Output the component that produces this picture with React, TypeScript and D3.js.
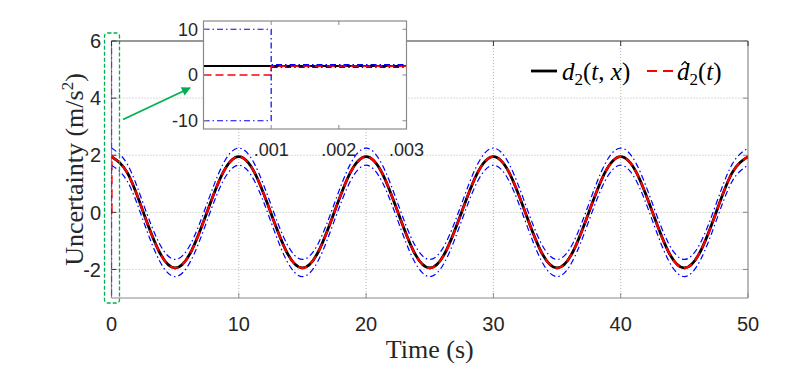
import React from "react";
import * as d3 from "d3";

// ---- data ----
const timeMain = [
  0, 1.25, 2.5, 3.75, 5, 6.25, 7.5, 8.75, 10, 11.25, 12.5, 13.75, 15, 16.25, 17.5, 18.75,
  20, 21.25, 22.5, 23.75, 25, 26.25, 27.5, 28.75, 30, 31.25, 32.5, 33.75, 35, 36.25, 37.5, 38.75,
  40, 41.25, 42.5, 43.75, 45, 46.25, 47.5, 48.75, 50,
];
const d2Main = [
  1.95, 1.38, 0, -1.38, -1.95, -1.38, 0, 1.38, 1.95, 1.38, 0, -1.38, -1.95, -1.38, 0, 1.38,
  1.95, 1.38, 0, -1.38, -1.95, -1.38, 0, 1.38, 1.95, 1.38, 0, -1.38, -1.95, -1.38, 0, 1.38,
  1.95, 1.38, 0, -1.38, -1.95, -1.38, 0, 1.38, 1.95,
];
const estimateMain = [
  1.95, 1.38, 0, -1.38, -1.95, -1.38, 0, 1.38, 1.95, 1.38, 0, -1.38, -1.95, -1.38, 0, 1.38,
  1.95, 1.38, 0, -1.38, -1.95, -1.38, 0, 1.38, 1.95, 1.38, 0, -1.38, -1.95, -1.38, 0, 1.38,
  1.95, 1.38, 0, -1.38, -1.95, -1.38, 0, 1.38, 1.95,
];
const boundHalfWidth = 0.3;

// initial transient (t in [0, 0.001])
const transientTime = [0, 0.001];
const estimateTransient = [0, 0];
const upperTransient = [10, 10];
const lowerTransient = [-10, -10];

// inset (zoom of t in [0, 0.003])
const insetTime = [0, 0.001, 0.002, 0.003];
const insetD2 = [1.95, 1.95, 1.95, 1.95];

const xTicks = [0, 10, 20, 30, 40, 50];
const yTicks = [-2, 0, 2, 4, 6];
const insetXTicks = [0.001, 0.002, 0.003];
const insetXTickLabels = [".001", ".002", ".003"];
const insetYTicks = [-10, 0, 10];

const BLACK = "#000000";
const RED = "#ff0000";
const BLUE = "#0000ff";
const GREEN = "#00b050";
const GRID = "#b4b4b4";
const AXIS = "#8a8a8a";
const AXIS_TOP = "#333333";
const SANS = "'Liberation Sans', Arial, Helvetica, sans-serif";
const SERIF = "'Liberation Serif', 'Times New Roman', Times, serif";

type P = [number, number];

export default function App() {
  const x = d3.scaleLinear().domain([0, 50]).range([111.5, 748]);
  const y = d3.scaleLinear().domain([-3, 6]).range([298, 41]);

  const xi = d3.scaleLinear().domain([0, 0.003]).range([203.5, 406.5]);
  const yi = d3.scaleLinear().domain([-11.8, 11.8]).range([129, 21]);

  const smooth = d3.line<P>().x((d) => x(d[0])).y((d) => y(d[1])).curve(d3.curveNatural);
  const lin = d3.line<P>().x((d) => x(d[0])).y((d) => y(d[1]));
  const linI = d3.line<P>().x((d) => xi(d[0])).y((d) => yi(d[1]));

  const blackPts: P[] = timeMain.map((t, i) => [t, d2Main[i]]);
  const redPts: P[] = timeMain.map((t, i) => [t, estimateMain[i]]);
  const upPts: P[] = timeMain.map((t, i) => [t, estimateMain[i] + boundHalfWidth]);
  const loPts: P[] = timeMain.map((t, i) => [t, estimateMain[i] - boundHalfWidth]);

  const tEnd = transientTime[transientTime.length - 1];
  const redTrans: P[] = [
    ...transientTime.map((t, i) => [t, estimateTransient[i]] as P),
    [tEnd, estimateMain[0]],
  ];
  const upTrans: P[] = [
    ...transientTime.map((t, i) => [t, upperTransient[i]] as P),
    [tEnd, estimateMain[0] + boundHalfWidth],
  ];
  const loTrans: P[] = [
    ...transientTime.map((t, i) => [t, lowerTransient[i]] as P),
    [tEnd, estimateMain[0] - boundHalfWidth],
  ];

  // inset series
  const insetBlack: P[] = insetTime.map((t, i) => [t, insetD2[i]]);
  const after = insetTime.map((t, i) => ({ t, v: insetD2[i] })).filter((d) => d.t >= tEnd);
  const insetRed: P[] = [
    ...transientTime.map((t, i) => [t, estimateTransient[i]] as P),
    ...after.map((d) => [d.t, d.v] as P),
  ];
  const insetUp: P[] = [
    ...transientTime.map((t, i) => [t, upperTransient[i]] as P),
    ...after.map((d) => [d.t, d.v + boundHalfWidth] as P),
  ];
  const insetLo: P[] = [
    ...transientTime.map((t, i) => [t, lowerTransient[i]] as P),
    ...after.map((d) => [d.t, d.v - boundHalfWidth] as P),
  ];

  const [x0, x1] = x.range();
  const [yb, yt] = y.range();
  const [ix0, ix1] = xi.range();
  const [iyb, iyt] = yi.range();

  const redDash = "9,5";
  const blueDash = "6,3,1.5,3";

  return (
    <svg
      width={789}
      height={369}
      style={{ position: "absolute", left: 0, top: 0, display: "block", background: "#fff" }}
    >
      <defs>
        <clipPath id="mainClip">
          <rect x={x0} y={yt} width={x1 - x0} height={yb - yt} />
        </clipPath>
        <clipPath id="insetClip">
          <rect x={ix0} y={iyt} width={ix1 - ix0} height={iyb - iyt} />
        </clipPath>
        <marker id="arrowHead" viewBox="0 0 10 10" refX="9" refY="5" markerWidth="11" markerHeight="9" markerUnits="userSpaceOnUse" orient="auto">
          <path d="M0,0 L10,5 L0,10 z" fill={GREEN} />
        </marker>
      </defs>

      {/* grid */}
      {xTicks.filter((t) => t > 0 && t < 50).map((t) => (
        <line key={"gx" + t} x1={x(t)} x2={x(t)} y1={yb} y2={yt} stroke={GRID} strokeWidth={1} strokeDasharray="1,2" />
      ))}
      {yTicks.filter((t) => t < 6).map((t) => (
        <line key={"gy" + t} x1={x0} x2={x1} y1={y(t)} y2={y(t)} stroke={GRID} strokeWidth={1} strokeDasharray="1,2" />
      ))}

      {/* axes frame */}
      <line x1={x0} x2={x1} y1={yb} y2={yb} stroke={AXIS} strokeWidth={1.2} />
      <line x1={x0} x2={x0} y1={yb} y2={yt} stroke={AXIS} strokeWidth={1.2} />
      <line x1={x1} x2={x1} y1={yb} y2={yt} stroke={AXIS} strokeWidth={1.2} />
      <line x1={x0} x2={x1} y1={yt} y2={yt} stroke={AXIS_TOP} strokeWidth={1.2} />
      {xTicks.map((t) => (
        <g key={"tx" + t}>
          <line x1={x(t)} x2={x(t)} y1={yb} y2={yb - 5} stroke={AXIS} />
          <line x1={x(t)} x2={x(t)} y1={yt} y2={yt + 5} stroke={AXIS_TOP} />
          <text x={x(t)} y={331} textAnchor="middle" fontFamily={SANS} fontSize={20} fill="#262626">
            {t}
          </text>
        </g>
      ))}
      {yTicks.map((t) => (
        <g key={"ty" + t}>
          <line x1={x0} x2={x0 + 5} y1={y(t)} y2={y(t)} stroke={AXIS_TOP} />
          <line x1={x1} x2={x1 - 5} y1={y(t)} y2={y(t)} stroke={AXIS} />
          <text x={101} y={y(t)} dy="0.36em" textAnchor="end" fontFamily={SANS} fontSize={20} fill="#262626">
            {t}
          </text>
        </g>
      ))}

      {/* data */}
      <g clipPath="url(#mainClip)">
        <path d={smooth(blackPts) ?? ""} fill="none" stroke={BLACK} strokeWidth={2.8} />
        <path d={lin(redTrans) ?? ""} fill="none" stroke={RED} strokeWidth={2.2} strokeDasharray={redDash} />
        <path d={smooth(redPts) ?? ""} fill="none" stroke={RED} strokeWidth={2.2} strokeDasharray={redDash} />
        <path d={lin(upTrans) ?? ""} fill="none" stroke={BLUE} strokeWidth={1.2} strokeDasharray={blueDash} />
        <path d={lin(loTrans) ?? ""} fill="none" stroke={BLUE} strokeWidth={1.2} strokeDasharray={blueDash} />
        <path d={smooth(upPts) ?? ""} fill="none" stroke={BLUE} strokeWidth={1.2} strokeDasharray={blueDash} />
        <path d={smooth(loPts) ?? ""} fill="none" stroke={BLUE} strokeWidth={1.2} strokeDasharray={blueDash} />
      </g>

      {/* axis titles */}
      <text x={(x0 + x1) / 2} y={358} textAnchor="middle" fontFamily={SERIF} fontSize={26} fill="#262626">
        Time (s)
      </text>
      <text transform={`translate(83,${(yt + yb) / 2}) rotate(-90)`} textAnchor="middle" fontFamily={SERIF} fontSize={26} fill="#262626">
        Uncertainty (m/s<tspan fontSize={17} dy={-10}>2</tspan><tspan dy={10}>)</tspan>
      </text>

      {/* legend */}
      <line x1={531} x2={557} y1={71} y2={71} stroke={BLACK} strokeWidth={2.8} />
      <text x={562} y={80} fontFamily={SERIF} fontSize={25} fill="#000">
        <tspan fontStyle="italic">d</tspan>
        <tspan fontSize={17} dy={5}>2</tspan>
        <tspan dy={-5}>(</tspan>
        <tspan fontStyle="italic">t</tspan>
        <tspan>, </tspan>
        <tspan fontStyle="italic">x</tspan>
        <tspan>)</tspan>
      </text>
      <line x1={647} x2={673} y1={71} y2={71} stroke={RED} strokeWidth={2.2} strokeDasharray="10,6" />
      <text x={677} y={80} fontFamily={SERIF} fontSize={25} fill="#000">
        <tspan fontStyle="italic">d</tspan>
        <tspan fontSize={17} dy={5}>2</tspan>
        <tspan dy={-5}>(</tspan>
        <tspan fontStyle="italic">t</tspan>
        <tspan>)</tspan>
      </text>
      {/* hat accent over d */}
      <path d="M681.5,65 L685,61.5 L688.5,65" fill="none" stroke="#000" strokeWidth={1.1} />

      {/* zoom marker */}
      <rect x={104.5} y={33} width={15} height={270} rx={3} fill="none" stroke={GREEN} strokeWidth={1.3} strokeDasharray="4,2" />
      <line x1={123} y1={119.5} x2={190} y2={88} stroke={GREEN} strokeWidth={1.8} markerEnd="url(#arrowHead)" />

      {/* inset */}
      <rect x={ix0} y={iyt} width={ix1 - ix0} height={iyb - iyt} fill="#fff" stroke="none" />
      <g clipPath="url(#insetClip)">
        <path d={linI(insetBlack) ?? ""} fill="none" stroke={BLACK} strokeWidth={2} />
        <path d={linI(insetRed) ?? ""} fill="none" stroke={RED} strokeWidth={1.6} strokeDasharray="8,4" />
        <path d={linI(insetUp) ?? ""} fill="none" stroke={BLUE} strokeWidth={1.2} strokeDasharray={blueDash} />
        <path d={linI(insetLo) ?? ""} fill="none" stroke={BLUE} strokeWidth={1.2} strokeDasharray={blueDash} />
      </g>
      <rect x={ix0} y={iyt} width={ix1 - ix0} height={iyb - iyt} fill="none" stroke={AXIS} strokeWidth={1.2} />
      {insetXTicks.map((t, i) => (
        <g key={"itx" + t}>
          <line x1={xi(t)} x2={xi(t)} y1={iyb} y2={iyb - 4} stroke={AXIS} />
          <line x1={xi(t)} x2={xi(t)} y1={iyt} y2={iyt + 4} stroke={AXIS} />
          <text x={xi(t)} y={156} textAnchor="middle" fontFamily={SANS} fontSize={18} fill="#262626">
            {insetXTickLabels[i]}
          </text>
        </g>
      ))}
      {insetYTicks.map((t) => (
        <g key={"ity" + t}>
          <line x1={ix0} x2={ix0 + 4} y1={yi(t)} y2={yi(t)} stroke={AXIS} />
          <line x1={ix1} x2={ix1 - 4} y1={yi(t)} y2={yi(t)} stroke={AXIS} />
          <text x={198} y={yi(t)} dy="0.36em" textAnchor="end" fontFamily={SANS} fontSize={18} fill="#262626">
            {t}
          </text>
        </g>
      ))}
    </svg>
  );
}
